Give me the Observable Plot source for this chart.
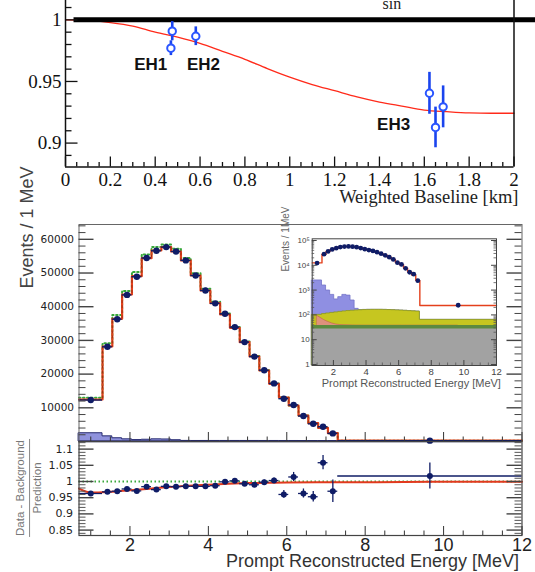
<!DOCTYPE html>
<html><head><meta charset="utf-8">
<script src="https://cdn.jsdelivr.net/npm/d3@7"></script>
<script src="https://cdn.jsdelivr.net/npm/@observablehq/plot@0.6"></script>
<style>
html,body{margin:0;padding:0;background:#fff;}
#wrap{position:relative;width:535px;height:572px;overflow:hidden;background:#fff;}
#wrap > svg{position:absolute;left:0;top:0;}
#ratioTitle{position:absolute;left:28.5px;top:488px;transform:translate(-50%,-50%) rotate(-90deg);font:11.5px "Liberation Sans",Arial,sans-serif;color:#777;text-align:center;line-height:1.3;white-space:nowrap;}
#ratioTitle .num{border-bottom:1px solid #888;padding:0 1px 1px;}
</style></head><body><div id="wrap"></div>
<script>
// ---------- Top panel: survival probability vs baseline ----------
const baselineKm   = [0,0.1,0.2,0.3,0.4,0.5,0.6,0.7,0.8,0.9,1.0,1.1,1.2,1.3,1.4,1.5,1.6,1.7,1.8,1.9,2.0];
const survivalProb = [1.000,0.9995,0.9978,0.9950,0.9900,0.9860,0.9810,0.9745,0.9680,0.9605,0.9535,0.9475,0.9425,0.9375,0.9333,0.9300,0.9268,0.9255,0.9245,0.9242,0.9242];
const hallBaseline = [0.476,0.470,0.581,1.623,1.650,1.684];
const hallRatio    = [0.9908,0.9770,0.9867,0.9404,0.9127,0.9294];
const hallRatioErr = [0.0078,0.0060,0.0076,0.0170,0.0165,0.0170];
const hallNames    = ["EH1","EH2","EH3"];
const hallNameX    = [0.380,0.615,1.463];
const hallNameY    = [0.964,0.964,0.915];
const unityLine    = {y:1, from:0.038, to:2.16};
const topXTicks    = [0,0.2,0.4,0.6,0.8,1,1.2,1.4,1.6,1.8,2];
const topYTicks    = [0.9,0.95,1];

// ---------- Prompt energy spectrum ----------
const binEdges = [0.7,1.3,1.55,1.8,2.05,2.3,2.55,2.8,3.05,3.3,3.55,3.8,4.05,4.3,4.55,4.8,5.05,5.3,5.55,5.8,6.05,6.3,6.55,6.8,7.05,7.3,12];
const predicted     = [12460,28190,36410,43620,49060,54400,56680,57660,56390,53720,49260,44810,41040,37690,33740,29470,25230,21070,17120,13050,10680,7720,5430,4070,2460,240];
const observed      = [12300,28100,36300,43500,48900,54450,56600,57700,56400,53750,49250,44800,41000,37900,33950,29500,25200,21150,17250,12700,10850,7550,5250,4380,2400,245];
const noOscillation = [12950,29150,37550,44700,50300,55500,57700,58500,57200,54450,49900,45300,41450,38000,34000,29650,25350,21150,17180,13090,10700,7740,5440,4075,2463,240];
// stacked background tops (cumulative, events / MeV)
const bkgGrayTop   = [27,27,27,27,27,27,27,27,27,27,27,27,27,27,27,27,27,27,27,27,27,27,27,27,27,27];
const bkgGreenTop  = [37,37,37,37,37,37,37,37,37,37,37,37,37,37,37,37,37,37,37,37,37,37,37,37,37,37];
const bkgSalmonTop = [92,62,52,45,41,39,38.5,38,37.6,37.4,37.2,37.1,37,37,37,37,37,37,37,37,37,37,37,37,37,37];
const bkgYellowTop = [100,108,114,120,126,132,138,143,147,151,154,157,159,160,160,160,159,157,155,152,149,146,142,139,136,63];
const bkgTotal     = [2450,1530,960,640,420,520,640,600,380,175,157,159,160,160,160,160,159,157,155,152,149,146,142,139,136,63];
// ratio (data - background) / prediction
const ratioData = [0.963,0.968,0.970,0.977,0.971,0.984,0.975,0.985,0.984,0.985,0.985,0.985,0.987,0.999,1.002,0.993,0.990,0.998,1.003,0.960,1.014,0.963,0.953,1.058,0.970,1.017];
const ratioErr  = [0.004,0.004,0.004,0.004,0.004,0.004,0.004,0.004,0.004,0.004,0.004,0.004,0.004,0.005,0.005,0.006,0.006,0.007,0.008,0.012,0.014,0.014,0.016,0.022,0.035,0.040];
const ratioCurveE = [0.7,0.85,1.0,1.2,1.5,2.0,2.5,3.0,3.5,4.0,4.5,5.0,5.5,6.0,7.0,8.0,10.0,12.0];
const ratioCurve  = [0.978,0.970,0.966,0.966,0.968,0.973,0.978,0.983,0.987,0.990,0.993,0.995,0.996,0.997,0.998,0.998,0.999,0.999];
const mainYTicks  = [10000,20000,30000,40000,50000,60000];
const ratioYTicks = [0.85,0.9,0.95,1,1.05,1.1];
const energyTicks = [2,4,6,8,10,12];
const insetYTicks = [1,10,100,1000,10000,100000];

// ---------- helpers ----------
const W = 535, H = 572;
const centers = binEdges.slice(0,-1).map((e,i)=>(e+binEdges[i+1])/2);
function steps(values){const p=[];values.forEach((v,i)=>{p.push({x:binEdges[i],y:v});p.push({x:binEdges[i+1],y:v});});return p;}
function xTicks(vals,len,side,ph,o={}){return Plot.tickX(vals,{x:d=>d,insetTop:side==="bottom"?ph-len:0,insetBottom:side==="top"?ph-len:0,stroke:"#333",strokeWidth:1,...o});}
function yTicks(vals,len,side,pw,o={}){return Plot.tickY(vals,{y:d=>d,insetRight:side==="left"?pw-len:0,insetLeft:side==="right"?pw-len:0,stroke:"#333",strokeWidth:1,...o});}
const near=(a,b)=>Math.abs(a-b)<1e-6;
const plain=d=>String(d);
const wrap = document.getElementById("wrap");

// ---------- Panel A ----------
{
  const mL=65,mR=21.5,mT=0,mB=405.5, ph=H-mT-mB, pw=W-mL-mR;
  const yDom=[0.8806,1.0157];
  const xMinor=d3.range(0,2.0001,0.05).filter(v=>!topXTicks.some(t=>near(t,v)));
  const yMinor=d3.range(0.89,1.0101,0.01).filter(v=>!topYTicks.some(t=>near(t,v)));
  const pts=hallBaseline.map((x,i)=>({x,y:hallRatio[i],e:hallRatioErr[i]}));
  const labels=hallNames.map((t,i)=>({t,x:hallNameX[i],y:hallNameY[i]}));
  const curve=baselineKm.map((x,i)=>({x,y:survivalProb[i]}));
  wrap.appendChild(Plot.plot({
    width:W,height:H,marginLeft:mL,marginRight:mR,marginTop:mT,marginBottom:mB,
    style:{background:"transparent",color:"#111",fontFamily:"Liberation Serif, Times New Roman, serif",fontSize:"19px"},
    x:{domain:[0,2]}, y:{domain:yDom},
    marks:[
      Plot.line(curve,{x:"x",y:"y",stroke:"#ff2a1a",strokeWidth:1.3,curve:"monotone-x"}),
      Plot.ruleY([unityLine],{y:"y",x1:"from",x2:"to",stroke:"#000",strokeWidth:5}),
      Plot.ruleX(pts,{x:"x",y1:d=>d.y-d.e,y2:d=>d.y+d.e,stroke:"#1a44ee",strokeWidth:2.6}),
      Plot.dot(pts,{x:"x",y:"y",r:3.7,fill:"white",stroke:"#2a55ff",strokeWidth:2}),
      Plot.text(labels,{x:"x",y:"y",text:"t",fontFamily:"Liberation Sans, Arial, sans-serif",fontWeight:"bold",fontSize:17,fill:"#111"}),
      Plot.ruleX([0],{stroke:"#111",strokeWidth:1.5}),
      Plot.ruleX([2],{stroke:"#111",strokeWidth:1.5}),
      Plot.ruleY([yDom[0]],{stroke:"#111",strokeWidth:1.5}),
      yTicks(topYTicks,12.5,"left",pw,{stroke:"#111",strokeWidth:1.3}),
      yTicks(yMinor,6.5,"left",pw,{stroke:"#111",strokeWidth:1.3}),
      xTicks(topXTicks,10,"bottom",ph,{stroke:"#111",strokeWidth:1.3}),
      xTicks(xMinor,4.5,"bottom",ph,{stroke:"#111",strokeWidth:1.3}),
      Plot.axisY({ticks:topYTicks,tickSize:0,tickPadding:4,tickFormat:plain,label:null,fontSize:19,fontFamily:"Liberation Serif, serif"}),
      Plot.axisX({ticks:topXTicks,tickSize:0,tickPadding:5.5,tickFormat:plain,label:null,fontSize:19,fontFamily:"Liberation Serif, serif"}),
      Plot.text(["Weighted Baseline [km]"],{text:d=>d,frameAnchor:"bottom-right",textAnchor:"end",dx:4.5,dy:35.5,fontSize:18.5,fontFamily:"Liberation Serif, serif",fill:"#222"}),
      Plot.text(["sin"],{text:d=>d,frameAnchor:"top-left",dx:382-mL,dy:8,lineAnchor:"bottom",fontSize:16,fontFamily:"Liberation Serif, serif",fill:"#222"})
    ]
  }));
}

// ---------- Panel B: main spectrum ----------
{
  const mL=78.5,mR=13.5,mT=224,mB=131, ph=H-mT-mB, pw=W-mL-mR;
  const yMinor=d3.range(2000,64001,2000).filter(v=>v%10000!==0);
  const xMinor=d3.range(1,12.01,0.5).filter(v=>!energyTicks.some(t=>near(t,v)));
  const bars=observed.map((v,i)=>({x1:binEdges[i],x2:binEdges[i+1],y:v,x:centers[i]}));
  wrap.appendChild(Plot.plot({
    width:W,height:H,marginLeft:mL,marginRight:mR,marginTop:mT,marginBottom:mB,
    style:{background:"transparent",color:"#222"},
    x:{domain:[0.7,12],axis:null}, y:{domain:[0,64400]},
    marks:[
      Plot.areaY(steps(bkgTotal),{x:"x",y1:0,y2:"y",fill:"#8f92dc",stroke:"#262a70",strokeWidth:1}),
      Plot.line(steps(noOscillation),{x:"x",y:"y",stroke:"#37a83a",strokeWidth:2,strokeDasharray:"1.5,2.5"}),
      Plot.line(steps(predicted),{x:"x",y:"y",stroke:"#e4401c",strokeWidth:2.2}),
      Plot.line(steps(predicted),{x:"x",y:"y",stroke:"#8a2e12",strokeWidth:0.8,strokeDasharray:"2,3"}),
      Plot.ruleY(bars,{x1:"x1",x2:"x2",y:"y",stroke:"#0f1c66",strokeWidth:1.4}),
      Plot.dot(bars,{x:"x",y:"y",r:3.2,fill:"#0f1c66"}),
      Plot.frame({stroke:"#666",strokeWidth:1}),
      Plot.ruleY([0],{stroke:"#1b1f4a",strokeWidth:1.6}),
      yTicks(mainYTicks,15,"left",pw,{stroke:"#444",strokeWidth:1.4}),
      yTicks(yMinor,7,"left",pw,{stroke:"#444"}),
      yTicks(mainYTicks,15,"right",pw,{stroke:"#444",strokeWidth:1.4}),
      yTicks(yMinor,7,"right",pw,{stroke:"#444"}),
      xTicks(energyTicks,9,"bottom",ph,{stroke:"#333"}),
      xTicks(xMinor,4.5,"bottom",ph,{stroke:"#333"}),
      Plot.axisY({ticks:mainYTicks,tickSize:0,tickPadding:5,tickFormat:plain,label:null,fontSize:10.5,fontFamily:"DejaVu Sans, sans-serif"}),
      Plot.text(["Events / 1 MeV"],{text:d=>d,frameAnchor:"left",rotate:-90,dx:-51.5,dy:-44.5,fontSize:18,fontFamily:"Liberation Sans, Arial, sans-serif",fill:"#444"})
    ]
  }));
}

// ---------- Panel C: ratio ----------
{
  const mL=78.5,mR=13.5,mT=441,mB=37, ph=H-mT-mB, pw=W-mL-mR;
  const yMinor=d3.range(0.84,1.1201,0.01).filter(v=>!ratioYTicks.some(t=>near(t,v)));
  const xMinor=d3.range(1,12.01,0.5).filter(v=>!energyTicks.some(t=>near(t,v)));
  const pts=ratioData.map((v,i)=>({x:centers[i],x1:binEdges[i],x2:binEdges[i+1],y:v,e:ratioErr[i]}));
  const curve=ratioCurveE.map((x,i)=>({x,y:ratioCurve[i]}));
  wrap.appendChild(Plot.plot({
    width:W,height:H,marginLeft:mL,marginRight:mR,marginTop:mT,marginBottom:mB,
    style:{background:"transparent",color:"#222"},
    x:{domain:[0.7,12]}, y:{domain:[0.8333,1.1235]},
    marks:[
      Plot.ruleY([1],{stroke:"#3aa83c",strokeWidth:2,strokeDasharray:"1.5,2.5"}),
      Plot.line(curve,{x:"x",y:"y",stroke:"#e23a1e",strokeWidth:2,curve:"monotone-x"}),
      Plot.ruleY(pts,{x1:"x1",x2:"x2",y:"y",stroke:"#0f1c66",strokeWidth:1.3}),
      Plot.ruleX(pts,{x:"x",y1:d=>d.y-d.e,y2:d=>d.y+d.e,stroke:"#0f1c66",strokeWidth:1.3}),
      Plot.dot(pts,{x:"x",y:"y",r:3,fill:"#0f1c66"}),
      Plot.frame({stroke:"#444",strokeWidth:1.2}),
      yTicks(ratioYTicks,15,"left",pw,{stroke:"#444",strokeWidth:1.4}),
      yTicks(yMinor,7,"left",pw,{stroke:"#555"}),
      yTicks(ratioYTicks,15,"right",pw,{stroke:"#444",strokeWidth:1.4}),
      yTicks(yMinor,7,"right",pw,{stroke:"#555"}),
      xTicks(energyTicks,9,"bottom",ph,{stroke:"#333"}),
      xTicks(xMinor,4.5,"bottom",ph,{stroke:"#333"}),
      Plot.axisY({ticks:ratioYTicks,tickSize:0,tickPadding:6,tickFormat:plain,label:null,fontSize:11,fontFamily:"DejaVu Sans, sans-serif"}),
      Plot.axisX({ticks:energyTicks,tickSize:0,tickPadding:2.5,tickFormat:plain,label:null,fontSize:18,fontFamily:"Liberation Sans, Arial, sans-serif"}),
      Plot.text(["Prompt Reconstructed Energy [MeV]"],{text:d=>d,frameAnchor:"bottom-right",textAnchor:"end",dx:-3,dy:31,fontSize:18,fontFamily:"Liberation Sans, Arial, sans-serif",fill:"#333"})
    ]
  }));
}

// ---------- Panel D: inset (log) ----------
{
  const mL=311.7,mR=39,mT=238.3,mB=207, ph=H-mT-mB, pw=W-mL-mR;
  const yDom=[0.911,117000];
  const yMinor=[];
  [1,10,100,1000,10000].forEach(d=>{for(let k=2;k<=9;k++){if(d*k<yDom[1])yMinor.push(d*k);}});
  const xMinor=d3.range(1,12.01,0.5).filter(v=>!energyTicks.some(t=>near(t,v)));
  const sup={2:"²",3:"³",4:"⁴",5:"⁵"};
  const fmt=d=>d===1?"1":d===10?"10":"10"+sup[Math.round(Math.log10(d))];
  const base=yDom[0];
  const pts=observed.map((v,i)=>({x:centers[i],y:v}));
  wrap.appendChild(Plot.plot({
    width:W,height:H,marginLeft:mL,marginRight:mR,marginTop:mT,marginBottom:mB,
    style:{background:"transparent",color:"#444"},
    x:{domain:[0.7,12]}, y:{type:"log",domain:yDom},
    marks:[
      Plot.frame({fill:"white",stroke:null}),
      Plot.areaY(steps(bkgTotal),{x:"x",y1:base,y2:"y",fill:"#8f8fe2",stroke:"#7373c8",strokeWidth:0.8}),
      Plot.areaY(steps(bkgYellowTop),{x:"x",y1:base,y2:"y",fill:"#c6c620",stroke:"#8e9a1c",strokeWidth:0.8}),
      Plot.areaY(centers.map((x,i)=>({x,y:bkgSalmonTop[i]})),{x:"x",y1:base,y2:"y",fill:"#de917c",stroke:"#c0604a",strokeWidth:0.6}),
      Plot.areaY(steps(bkgGreenTop),{x:"x",y1:base,y2:"y",fill:"#5c8a40"}),
      Plot.areaY(steps(bkgGrayTop),{x:"x",y1:base,y2:"y",fill:"#a2a2a2"}),
      Plot.line(steps(predicted),{x:"x",y:"y",stroke:"#e4401c",strokeWidth:1.4}),
      Plot.dot(pts,{x:"x",y:"y",r:2.4,fill:"#0f1c66"}),
      Plot.frame({stroke:"#444",strokeWidth:1}),
      yTicks(insetYTicks,5,"left",pw,{stroke:"#444"}),
      yTicks(yMinor,2.5,"left",pw,{stroke:"#555",strokeWidth:0.8}),
      yTicks(insetYTicks,5,"right",pw,{stroke:"#444"}),
      yTicks(yMinor,2.5,"right",pw,{stroke:"#555",strokeWidth:0.8}),
      xTicks(energyTicks,5,"bottom",ph,{stroke:"#444"}),
      xTicks(xMinor,2.5,"bottom",ph,{stroke:"#555",strokeWidth:0.8}),
      Plot.axisY({ticks:insetYTicks,tickSize:0,tickPadding:2.5,tickFormat:fmt,label:null,fontSize:8,fontFamily:"Liberation Sans, Arial, sans-serif"}),
      Plot.axisX({ticks:energyTicks,tickSize:0,tickPadding:3,tickFormat:plain,label:null,fontSize:9.5,fontFamily:"Liberation Sans, Arial, sans-serif"}),
      Plot.text(["Prompt Reconstructed Energy [MeV]"],{text:d=>d,frameAnchor:"bottom",dx:7,dy:21.5,fontSize:11,fontFamily:"Liberation Sans, Arial, sans-serif",fill:"#555"}),
      Plot.text(["Events / 1MeV"],{text:d=>d,frameAnchor:"left",rotate:-90,dx:-26.7,dy:-30.6,fontSize:10,fontFamily:"Liberation Sans, Arial, sans-serif",fill:"#666"})
    ]
  }));
}

// ratio panel y title (two-line fraction)
const rt=document.createElement("div");
rt.id="ratioTitle";
rt.innerHTML='<div class="num">Data - Background</div><div>Prediction</div>';
wrap.appendChild(rt);
</script></body></html>
